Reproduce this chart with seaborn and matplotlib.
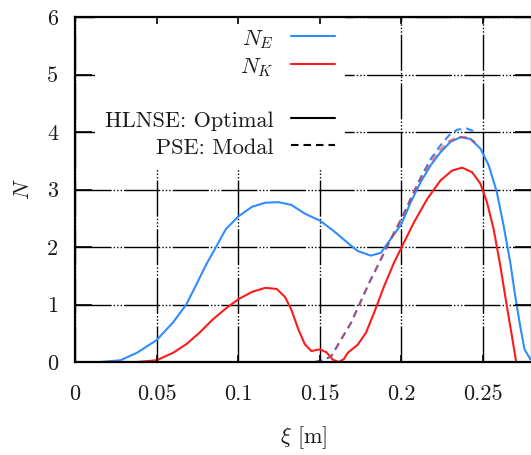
import matplotlib
matplotlib.use("Agg")
import matplotlib.pyplot as plt
from matplotlib.lines import Line2D
import seaborn as sns

# HLNSE (optimal) N-factor curves
xi_e = [0.0157, 0.0278, 0.0379, 0.050, 0.0601, 0.0682, 0.0742, 0.0803, 0.0864, 0.0924,
        0.100, 0.1085, 0.1166, 0.1246, 0.1327, 0.1408, 0.150, 0.158, 0.163, 0.1701,
        0.1732, 0.1813, 0.1874, 0.1935, 0.200, 0.2057, 0.2118, 0.2179, 0.224, 0.2301,
        0.2362, 0.2423, 0.2484, 0.2535, 0.2585, 0.2626, 0.2667, 0.2697, 0.2728, 0.2754,
        0.279, 0.284]
n_e = [0.00, 0.03, 0.16, 0.38, 0.69, 1.00, 1.34, 1.69, 2.00, 2.31,
       2.53, 2.70, 2.77, 2.78, 2.73, 2.58, 2.46, 2.29, 2.17, 2.00,
       1.93, 1.85, 1.90, 2.14, 2.40, 2.78, 3.13, 3.42, 3.65, 3.83,
       3.91, 3.88, 3.71, 3.42, 2.95, 2.37, 1.73, 1.15, 0.62, 0.22,
       0.05, 0.00]

xi_k = [0.0157, 0.0379, 0.050, 0.0601, 0.0682, 0.0763, 0.0844, 0.0924, 0.100, 0.1085,
        0.1166, 0.1236, 0.1287, 0.1327, 0.1368, 0.1408, 0.1448, 0.150, 0.154, 0.158,
        0.1615, 0.1647, 0.1671, 0.1732, 0.1783, 0.1833, 0.1894, 0.1955, 0.200, 0.2077,
        0.2159, 0.224, 0.2311, 0.2372, 0.2433, 0.2484, 0.2524, 0.2565, 0.2606, 0.2646,
        0.2677, 0.2703, 0.2715]
n_k = [0.00, 0.00, 0.03, 0.16, 0.31, 0.51, 0.74, 0.93, 1.09, 1.22,
       1.29, 1.27, 1.13, 0.90, 0.57, 0.31, 0.19, 0.22, 0.17, 0.04,
       0.00, 0.05, 0.16, 0.30, 0.51, 0.86, 1.32, 1.73, 1.99, 2.43,
       2.84, 3.16, 3.33, 3.38, 3.30, 3.10, 2.78, 2.31, 1.67, 0.97,
       0.45, 0.00, -0.15]

# PSE (modal) N-factor curves
xi_pse = [0.147, 0.152, 0.157, 0.163, 0.1691, 0.1752, 0.1803, 0.1854, 0.1904, 0.1955,
          0.200, 0.2057, 0.2118, 0.2179, 0.224, 0.2291, 0.2341, 0.2402, 0.2453]
n_e_pse = [0.00, 0.03, 0.10, 0.39, 0.68, 1.06, 1.38, 1.67, 1.96, 2.25,
           2.49, 2.84, 3.21, 3.53, 3.77, 3.94, 4.04, 4.06, 4.00]
n_k_pse = [0.00, 0.03, 0.10, 0.39, 0.68, 1.06, 1.38, 1.67, 1.96, 2.25,
           2.49, 2.84, 3.19, 3.48, 3.70, 3.84, 3.91, 3.91, 3.82]

xticks = [0, 0.05, 0.10, 0.15, 0.20, 0.25]
xtick_labels = ["0", "0.05", "0.1", "0.15", "0.2", "0.25"]
yticks = [0, 1, 2, 3, 4, 5, 6]
ytick_labels = ["0", "1", "2", "3", "4", "5", "6"]

BLUE = "#2f8cff"
RED = "#ff1a1a"
TXT = "#1a1a1a"

sns.set_theme(style="white")
plt.rcParams["font.family"] = "serif"
plt.rcParams["font.serif"] = ["cmr10", "DejaVu Serif"]
plt.rcParams["mathtext.fontset"] = "cm"
plt.rcParams["axes.unicode_minus"] = False
plt.rcParams["axes.formatter.use_mathtext"] = True

FS = 16
W, H = 531, 455
fig = plt.figure(figsize=(W / 100, H / 100), dpi=100)
fig.patch.set_facecolor("white")

left, right, bottom, top = 75, 532, 362, 17
rect = [left / W, 1 - bottom / H, (right - left) / W, (bottom - top) / H]

ax = fig.add_axes(rect)
ax.set_xlim(0, 0.28)
ax.set_ylim(0, 6)

grid_ls = (0, (26, 1.5, 1, 1.5, 1, 1.5, 1, 1.5))
ax.set_axisbelow(True)
ax.grid(True, color="black", linewidth=1.0, linestyle=grid_ls)

dash = (0, (3.6, 2.4))
lw = 1.5
sns.lineplot(x=xi_e, y=n_e, ax=ax, color=BLUE, linewidth=lw, sort=False,
             estimator=None, legend=False, zorder=4)
sns.lineplot(x=xi_k, y=n_k, ax=ax, color=RED, linewidth=lw, sort=False,
             estimator=None, legend=False, zorder=4)
sns.lineplot(x=xi_pse, y=n_e_pse, ax=ax, color=BLUE, linewidth=lw, linestyle=dash,
             sort=False, estimator=None, legend=False, zorder=5)
sns.lineplot(x=xi_pse, y=n_k_pse, ax=ax, color=RED, linewidth=lw, linestyle=dash,
             alpha=0.55, sort=False, estimator=None, legend=False, zorder=6)

ax.set_xticks(xticks)
ax.set_xticklabels(xtick_labels)
ax.set_yticks(yticks)
ax.set_yticklabels(ytick_labels)
ax.tick_params(axis="both", length=0, labelsize=FS, labelcolor=TXT)
ax.tick_params(axis="y", pad=12)
ax.tick_params(axis="x", pad=16.5)
for s in ax.spines.values():
    s.set_visible(False)

ax.set_xlabel(r"$\xi$ [m]", fontsize=FS, color=TXT, labelpad=14)
ax.set_ylabel(r"$N$", fontsize=FS, color=TXT, labelpad=10)

handles = [
    Line2D([], [], color=BLUE, linewidth=lw),
    Line2D([], [], color=RED, linewidth=lw),
    Line2D([], [], color="none"),
    Line2D([], [], color="black", linewidth=lw),
    Line2D([], [], color="black", linewidth=lw, linestyle=dash),
]
labels = [r"$N_E$", r"$N_K$", " ", "HLNSE: Optimal", "PSE: Modal"]
leg = ax.legend(handles, labels, loc="upper right",
                bbox_to_anchor=(345 / W, 1 - top / H), bbox_transform=fig.transFigure,
                markerfirst=False, fontsize=FS, frameon=True, fancybox=False,
                framealpha=1.0, facecolor="white", edgecolor="none",
                handlelength=2.0, handleheight=1.1, handletextpad=0.75,
                labelspacing=0.18, borderpad=0.45, borderaxespad=0)
for t in leg.get_texts():
    t.set_color(TXT)

# frame and inward ticks drawn above the key box
ax_fr = fig.add_axes(rect, sharex=ax, sharey=ax)
ax_fr.patch.set_visible(False)
ax_fr.grid(False)
ax_fr.tick_params(axis="both", direction="in", color="black", width=1.2,
                  labelleft=False, labelbottom=False,
                  left=True, right=True, top=True, bottom=True)
ax_fr.tick_params(axis="y", length=12)
ax_fr.tick_params(axis="x", length=5)
for s in ax_fr.spines.values():
    s.set_visible(True)
    s.set_color("black")
    s.set_linewidth(1.6)

fig.savefig("out.png", dpi=100, facecolor="white")
